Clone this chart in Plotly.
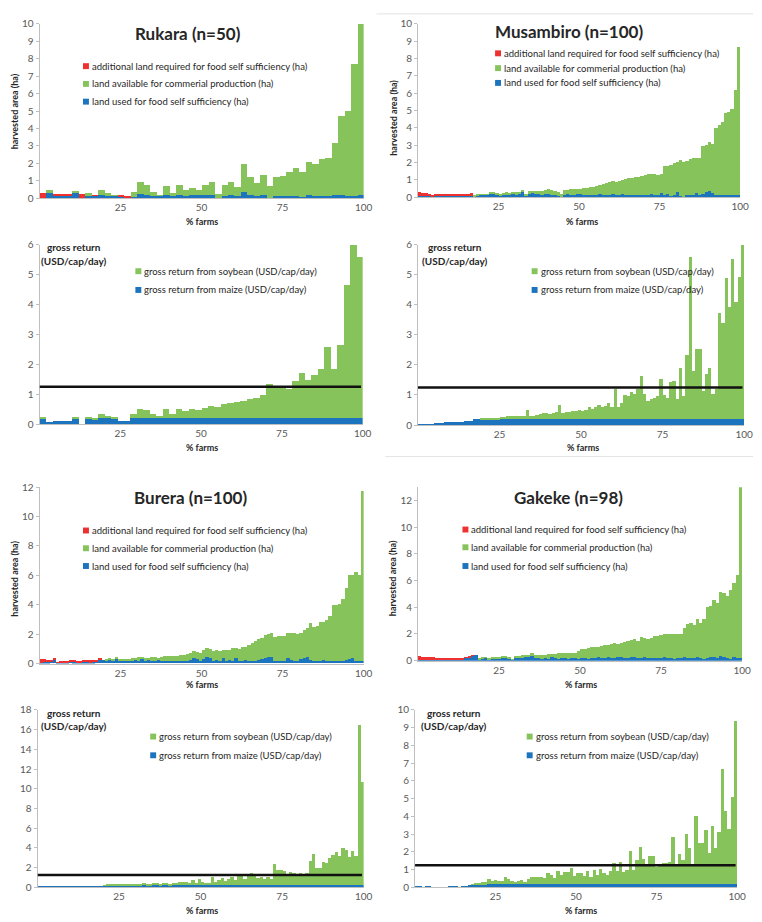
import plotly.graph_objects as go

# ---------------------------------------------------------------- data
# Rukara (n=50): harvested area per farm (ha), farms sorted by land available
rukara_food = [0.05, 0.30, 0.15, 0.15, 0.15, 0.30, 0.05, 0.20, 0.15, 0.20,
               0.20, 0.15, 0.10, 0.08, 0.10, 0.25, 0.20, 0.15, 0.15, 0.20,
               0.15, 0.20, 0.15, 0.20, 0.20, 0.20, 0.20, 0.05, 0.15, 0.20,
               0.15, 0.35, 0.20, 0.15, 0.20, 0.05, 0.15, 0.15, 0.15, 0.15,
               0.10, 0.20, 0.15, 0.15, 0.15, 0.20, 0.20, 0.15, 0.15, 0.20]
rukara_extra = [0.25, 0, 0.10, 0.10, 0.07, 0, 0.20, 0, 0.05, 0,
                0, 0, 0.05, 0.07, 0, 0, 0, 0, 0, 0,
                0, 0, 0, 0, 0, 0, 0, 0, 0, 0,
                0, 0, 0, 0, 0, 0, 0, 0, 0, 0,
                0, 0, 0, 0, 0, 0, 0, 0, 0, 0]
rukara_comm = [0, 0.20, 0, 0, 0, 0.12, 0, 0.10, 0, 0.30,
               0.10, 0.05, 0, 0, 0.30, 0.70, 0.55, 0.20, 0.05, 0.50,
               0.15, 0.55, 0.35, 0.40, 0.30, 0.60, 0.75, 0.20, 0.65, 0.75,
               0.50, 1.65, 1.05, 0.75, 1.15, 0.65, 1.10, 1.15, 1.35, 1.60,
               1.40, 1.90, 1.85, 2.10, 2.15, 3.00, 4.50, 4.85, 7.55, 9.80]
# Rukara gross return (USD/cap/day)
rukara_maize = [0.20, 0.08, 0.10, 0.10, 0.12, 0.20, 0, 0.20, 0.18, 0.20,
                0.20, 0.20, 0.12, 0.12, 0.20, 0.20, 0.20, 0.20, 0.20, 0.20,
                0.20, 0.20, 0.20, 0.20, 0.20, 0.20, 0.20, 0.20, 0.20, 0.20,
                0.20, 0.20, 0.20, 0.20, 0.20, 0.20, 0.20, 0.20, 0.20, 0.20,
                0.20, 0.20, 0.20, 0.20, 0.20, 0.20, 0.20, 0.20, 0.20, 0.20]
rukara_soy = [0.05, 0, 0, 0, 0, 0.05, 0, 0.02, 0.02, 0.15,
              0.08, 0.02, 0, 0, 0.15, 0.30, 0.27, 0.15, 0.08, 0.30,
              0.15, 0.30, 0.25, 0.30, 0.27, 0.35, 0.40, 0.37, 0.50, 0.52,
              0.55, 0.60, 0.65, 0.70, 0.80, 1.15, 1.05, 1.05, 1.00, 1.25,
              1.52, 1.30, 1.45, 1.65, 2.40, 1.65, 2.45, 4.45, 5.80, 5.40]

# Musambiro (n=100)
musambiro_food = [0.08, 0.08, 0.07, 0.06, 0.05, 0.08, 0.06, 0.07, 0.07, 0.07,
                  0.07, 0.07, 0.07, 0.07, 0.07, 0.08, 0.10, 0.08, 0.12, 0.15,
                  0.15, 0.15, 0.25, 0.25, 0.20, 0.12, 0.15, 0.15, 0.15, 0.18,
                  0.15, 0.20, 0.30, 0.12, 0.20, 0.25, 0.20, 0.18, 0.15, 0.20,
                  0.18, 0.15, 0.12, 0.10, 0.05, 0.15, 0.18, 0.15, 0.15, 0.18,
                  0.20, 0.15, 0.15, 0.12, 0.15, 0.15, 0.18, 0.15, 0.12, 0.15,
                  0.20, 0.15, 0.15, 0.18, 0.15, 0.12, 0.15, 0.15, 0.15, 0.12,
                  0.15, 0.15, 0.20, 0.15, 0.15, 0.25, 0.15, 0.20, 0.10, 0.15,
                  0.30, 0.10, 0.02, 0.15, 0.15, 0.15, 0.25, 0.15, 0.20, 0.30,
                  0.35, 0.25, 0.12, 0.15, 0.15, 0.15, 0.15, 0.15, 0.15, 0.15]
musambiro_extra = [0.22, 0.20, 0.18, 0.12, 0.10, 0.14, 0.12, 0.13, 0.13, 0.13,
                   0.13, 0.13, 0.13, 0.13, 0.13, 0.12, 0.15, 0, 0, 0,
                   0, 0, 0, 0, 0, 0, 0, 0, 0, 0,
                   0, 0, 0, 0, 0, 0, 0, 0, 0, 0,
                   0, 0, 0, 0, 0, 0, 0, 0, 0, 0,
                   0, 0, 0, 0, 0, 0, 0, 0, 0, 0,
                   0, 0, 0, 0, 0, 0, 0, 0, 0, 0,
                   0, 0, 0, 0, 0, 0, 0, 0, 0, 0,
                   0, 0, 0, 0, 0, 0, 0, 0, 0, 0,
                   0, 0, 0, 0, 0, 0, 0, 0, 0, 0]
musambiro_comm = [0, 0, 0, 0, 0, 0, 0, 0, 0, 0,
                  0, 0, 0, 0, 0, 0, 0, 0.02, 0.03, 0.03,
                  0.03, 0.05, 0.03, 0.05, 0.05, 0.10, 0.13, 0.15, 0.13, 0.12,
                  0.17, 0.13, 0.15, 0.08, 0.18, 0.15, 0.18, 0.18, 0.23, 0.22,
                  0.30, 0.27, 0.26, 0.22, 0.17, 0.30, 0.27, 0.33, 0.35, 0.32,
                  0.32, 0.40, 0.40, 0.46, 0.47, 0.53, 0.57, 0.65, 0.73, 0.75,
                  0.75, 0.75, 0.83, 0.82, 0.90, 0.98, 1.00, 1.05, 1.03, 1.13,
                  1.15, 1.20, 1.15, 1.23, 1.17, 1.13, 1.67, 1.60, 1.75, 1.85,
                  1.75, 2.05, 2.03, 1.95, 2.05, 2.10, 2.00, 2.15, 2.75, 2.70,
                  2.85, 2.85, 3.88, 4.05, 4.20, 4.70, 4.75, 4.95, 6.05, 8.55]
musambiro_maize = [0.03, 0.03, 0.03, 0.04, 0.05, 0.08, 0.08, 0.09, 0.10, 0.12,
                   0.12, 0.12, 0.13, 0.13, 0.14, 0.15, 0.15, 0.20, 0.20, 0.20,
                   0.20, 0.20, 0.20, 0.20, 0.20, 0.20, 0.20, 0.20, 0.20, 0.20,
                   0.20, 0.20, 0.20, 0.20, 0.20, 0.20, 0.20, 0.20, 0.20, 0.20,
                   0.20, 0.20, 0.20, 0.20, 0.20, 0.20, 0.20, 0.20, 0.20, 0.20,
                   0.20, 0.20, 0.20, 0.20, 0.20, 0.20, 0.20, 0.20, 0.20, 0.20,
                   0.20, 0.20, 0.20, 0.20, 0.20, 0.20, 0.20, 0.20, 0.20, 0.20,
                   0.20, 0.20, 0.20, 0.20, 0.20, 0.20, 0.20, 0.20, 0.20, 0.20,
                   0.20, 0.20, 0.20, 0.20, 0.20, 0.20, 0.20, 0.20, 0.20, 0.20,
                   0.20, 0.20, 0.20, 0.20, 0.20, 0.20, 0.20, 0.20, 0.20, 0.20]
musambiro_soy = [0, 0, 0, 0, 0, 0, 0, 0, 0, 0,
                 0, 0, 0, 0, 0, 0, 0, 0, 0, 0.02,
                 0.02, 0.03, 0.04, 0.05, 0.05, 0.08, 0.08, 0.10, 0.10, 0.12,
                 0.12, 0.13, 0.13, 0.32, 0.10, 0.12, 0.15, 0.18, 0.20, 0.22,
                 0.18, 0.20, 0.25, 0.48, 0.22, 0.25, 0.25, 0.28, 0.28, 0.30,
                 0.28, 0.32, 0.42, 0.35, 0.40, 0.48, 0.42, 0.45, 0.55, 0.42,
                 1.00, 0.42, 0.55, 0.80, 0.77, 0.90, 0.85, 1.00, 1.45, 0.85,
                 0.62, 0.68, 0.70, 0.78, 1.35, 0.80, 0.72, 1.25, 1.28, 0.68,
                 1.70, 0.78, 2.15, 5.40, 1.60, 2.35, 2.35, 0.95, 1.50, 1.70,
                 0.85, 1.00, 3.55, 3.20, 4.70, 3.75, 5.35, 3.90, 4.75, 5.80]

# Burera (n=100)
burera_food = [0.05, 0.08, 0.10, 0.15, 0.30, 0.05, 0.02, 0.08, 0.10, 0.15,
               0.08, 0.08, 0.10, 0.12, 0.08, 0.10, 0.12, 0.15, 0.30, 0.25,
               0.20, 0.25, 0.20, 0.35, 0.20, 0.15, 0.20, 0.15, 0.20, 0.25,
               0.20, 0.30, 0.20, 0.25, 0.20, 0.15, 0.25, 0.20, 0.15, 0.20,
               0.20, 0.15, 0.20, 0.20, 0.15, 0.20, 0.25, 0.40, 0.30, 0.20,
               0.30, 0.45, 0.35, 0.20, 0.25, 0.20, 0.35, 0.20, 0.25, 0.20,
               0.35, 0.20, 0.20, 0.25, 0.20, 0.15, 0.20, 0.25, 0.30, 0.40,
               0.45, 0.45, 0.15, 0.20, 0.20, 0.20, 0.35, 0.25, 0.20, 0.20,
               0.30, 0.35, 0.45, 0.25, 0.20, 0.20, 0.20, 0.25, 0.20, 0.20,
               0.15, 0.20, 0.20, 0.20, 0.25, 0.30, 0.35, 0.20, 0.20, 0.15]
burera_extra = [0.25, 0.20, 0.17, 0.12, 0.02, 0.05, 0.15, 0.12, 0.10, 0.10,
                0.15, 0.12, 0.10, 0.10, 0.14, 0.12, 0.10, 0.08, 0.02, 0,
                0, 0, 0, 0, 0, 0, 0, 0, 0, 0,
                0, 0, 0, 0, 0, 0, 0, 0, 0, 0,
                0, 0, 0, 0, 0, 0, 0, 0, 0, 0,
                0, 0, 0, 0, 0, 0, 0, 0, 0, 0,
                0, 0, 0, 0, 0, 0, 0, 0, 0, 0,
                0, 0, 0, 0, 0, 0, 0, 0, 0, 0,
                0, 0, 0, 0, 0, 0, 0, 0, 0, 0,
                0, 0, 0, 0, 0, 0, 0, 0, 0, 0]
burera_comm = [0, 0, 0, 0, 0, 0, 0, 0, 0, 0,
               0, 0, 0, 0, 0, 0, 0, 0, 0, 0,
               0.12, 0.10, 0.10, 0.03, 0.10, 0.15, 0.08, 0.15, 0.18, 0.15,
               0.22, 0.15, 0.20, 0.13, 0.25, 0.27, 0.15, 0.25, 0.33, 0.30,
               0.30, 0.33, 0.30, 0.35, 0.45, 0.45, 0.45, 0.45, 0.45, 0.50,
               0.65, 0.60, 0.65, 0.65, 0.70, 0.65, 0.55, 0.75, 0.70, 0.85,
               0.70, 0.80, 0.90, 0.90, 1.05, 1.25, 1.35, 1.40, 1.40, 1.55,
               1.55, 1.60, 1.65, 1.65, 1.70, 1.70, 1.75, 1.80, 1.85, 1.80,
               1.80, 1.90, 1.95, 2.50, 2.30, 2.35, 2.65, 2.60, 2.75, 3.00,
               3.85, 3.80, 3.85, 4.20, 4.85, 5.70, 5.65, 6.05, 5.80, 11.55]
burera_maize = [0.10, 0.08, 0.08, 0.10, 0.15, 0.05, 0.05, 0.08, 0.10, 0.12,
                0.08, 0.08, 0.10, 0.12, 0.10, 0.10, 0.12, 0.12, 0.18, 0.15,
                0.20, 0.20, 0.20, 0.20, 0.20, 0.20, 0.20, 0.20, 0.20, 0.20,
                0.20, 0.20, 0.20, 0.20, 0.20, 0.20, 0.20, 0.20, 0.20, 0.20,
                0.20, 0.20, 0.20, 0.20, 0.20, 0.20, 0.20, 0.20, 0.20, 0.20,
                0.20, 0.20, 0.20, 0.20, 0.20, 0.20, 0.20, 0.20, 0.20, 0.20,
                0.20, 0.20, 0.20, 0.20, 0.20, 0.20, 0.20, 0.20, 0.20, 0.20,
                0.20, 0.20, 0.20, 0.20, 0.20, 0.20, 0.20, 0.20, 0.20, 0.20,
                0.20, 0.20, 0.20, 0.20, 0.20, 0.20, 0.20, 0.20, 0.20, 0.20,
                0.20, 0.20, 0.20, 0.20, 0.20, 0.20, 0.20, 0.20, 0.20, 0.20]
burera_soy = [0, 0, 0, 0, 0, 0, 0, 0, 0, 0,
              0, 0, 0, 0, 0, 0, 0, 0, 0, 0,
              0.05, 0.08, 0.08, 0.10, 0.10, 0.10, 0.12, 0.10, 0.12, 0.10,
              0.15, 0.18, 0.22, 0.18, 0.20, 0.25, 0.22, 0.20, 0.25, 0.22,
              0.20, 0.22, 0.25, 0.40, 0.38, 0.40, 0.30, 0.55, 0.30, 0.70,
              0.35, 0.30, 0.30, 0.90, 0.40, 0.60, 0.75, 0.50, 0.70, 0.90,
              0.55, 1.00, 1.05, 0.65, 1.20, 1.30, 1.20, 0.80, 0.90, 0.70,
              0.90, 0.65, 2.20, 1.60, 1.60, 1.45, 1.00, 1.40, 1.25, 1.00,
              1.30, 1.05, 1.25, 2.50, 3.20, 1.80, 1.75, 2.40, 2.30, 2.80,
              3.10, 3.40, 3.00, 3.80, 3.60, 2.90, 3.50, 3.00, 16.30, 10.50]

# Gakeke (n=98)
gakeke_food = [0.05, 0.05, 0.05, 0.05, 0.05, 0.05, 0.05, 0.05, 0.05, 0.05,
               0.05, 0.05, 0.05, 0.05, 0.20, 0.25, 0.35, 0.45, 0.10, 0.12,
               0.20, 0.10, 0.12, 0.15, 0.12, 0.20, 0.20, 0.18, 0.05, 0.20,
               0.25, 0.20, 0.30, 0.25, 0.35, 0.20, 0.20, 0.15, 0.20, 0.15,
               0.25, 0.20, 0.15, 0.20, 0.20, 0.15, 0.20, 0.20, 0.15, 0.20,
               0.20, 0.15, 0.20, 0.20, 0.30, 0.20, 0.20, 0.25, 0.20, 0.20,
               0.25, 0.30, 0.20, 0.20, 0.30, 0.25, 0.20, 0.20, 0.25, 0.20,
               0.20, 0.20, 0.20, 0.20, 0.25, 0.20, 0.20, 0.15, 0.20, 0.20,
               0.25, 0.20, 0.20, 0.20, 0.30, 0.20, 0.15, 0.20, 0.25, 0.30,
               0.20, 0.35, 0.25, 0.20, 0.15, 0.25, 0.20, 0.20]
gakeke_extra = [0.27, 0.25, 0.23, 0.23, 0.20, 0.17, 0.15, 0.13, 0.13, 0.10,
                0.10, 0.10, 0.10, 0.10, 0.05, 0.05, 0.03, 0, 0, 0,
                0, 0, 0, 0, 0, 0, 0, 0, 0, 0,
                0, 0, 0, 0, 0, 0, 0, 0, 0, 0,
                0, 0, 0, 0, 0, 0, 0, 0, 0, 0,
                0, 0, 0, 0, 0, 0, 0, 0, 0, 0,
                0, 0, 0, 0, 0, 0, 0, 0, 0, 0,
                0, 0, 0, 0, 0, 0, 0, 0, 0, 0,
                0, 0, 0, 0, 0, 0, 0, 0, 0, 0,
                0, 0, 0, 0, 0, 0, 0, 0]
gakeke_comm = [0, 0, 0, 0, 0, 0, 0, 0, 0, 0,
               0, 0, 0, 0, 0, 0, 0, 0, 0.05, 0.08,
               0.05, 0.05, 0.08, 0.10, 0.10, 0.08, 0.10, 0.10, 0.05, 0.10,
               0.10, 0.20, 0.12, 0.20, 0.25, 0.25, 0.22, 0.27, 0.25, 0.33,
               0.25, 0.32, 0.40, 0.35, 0.35, 0.43, 0.40, 0.40, 0.60, 0.65,
               0.68, 0.80, 0.80, 0.85, 0.75, 0.90, 0.95, 0.95, 1.05, 1.10,
               1.00, 1.05, 1.20, 1.25, 1.25, 1.35, 1.30, 1.55, 1.45, 1.40,
               1.45, 1.60, 1.65, 1.70, 1.75, 1.80, 1.80, 1.85, 1.80, 1.80,
               2.15, 2.50, 2.60, 2.45, 2.80, 2.60, 2.95, 3.80, 3.85, 4.20,
               4.10, 4.75, 4.80, 4.65, 5.15, 5.55, 6.20, 12.80]
gakeke_maize = [0.03, 0.03, 0, 0.03, 0.03, 0, 0, 0, 0, 0,
                0.03, 0.03, 0.03, 0, 0.08, 0.10, 0.12, 0.14, 0.15, 0.17,
                0.18, 0.19, 0.20, 0.20, 0.20, 0.20, 0.20, 0.20, 0.20, 0.20,
                0.20, 0.20, 0.20, 0.20, 0.20, 0.20, 0.20, 0.20, 0.20, 0.20,
                0.20, 0.20, 0.20, 0.20, 0.20, 0.20, 0.20, 0.20, 0.20, 0.20,
                0.20, 0.20, 0.20, 0.20, 0.20, 0.20, 0.20, 0.20, 0.20, 0.20,
                0.20, 0.20, 0.20, 0.20, 0.20, 0.20, 0.20, 0.20, 0.20, 0.20,
                0.20, 0.20, 0.20, 0.20, 0.20, 0.20, 0.20, 0.20, 0.20, 0.20,
                0.20, 0.20, 0.20, 0.20, 0.20, 0.20, 0.20, 0.20, 0.20, 0.20,
                0.20, 0.20, 0.20, 0.20, 0.20, 0.20, 0.20, 0.20]
gakeke_soy = [0, 0, 0, 0, 0, 0, 0, 0, 0, 0,
              0, 0, 0, 0, 0, 0, 0, 0.02, 0.07, 0.07,
              0.10, 0.11, 0.30, 0.15, 0.22, 0.15, 0.18, 0.40, 0.30, 0.15,
              0.10, 0.18, 0.20, 0.13, 0.30, 0.38, 0.40, 0.40, 0.40, 0.35,
              0.60, 0.50, 0.35, 0.75, 0.50, 0.65, 0.65, 0.90, 0.45, 0.60,
              0.60, 0.45, 0.70, 0.40, 0.80, 0.50, 0.85, 0.60, 0.50, 0.70,
              1.20, 0.75, 1.25, 0.65, 0.80, 1.85, 0.80, 1.35, 2.10, 1.40,
              1.05, 1.55, 1.55, 0.95, 1.10, 1.20, 1.20, 1.25, 2.65, 1.15,
              1.70, 1.35, 2.80, 2.00, 1.15, 3.80, 2.30, 2.30, 3.05, 1.75,
              3.25, 2.00, 2.90, 6.50, 4.10, 3.10, 4.90, 9.20]

x_ticks = [25, 50, 75, 100]
x_tick_labels = ["25", "50", "75", "100"]
poverty_line = 1.25

LEG_EXTRA = "additional land required for food self sufficiency (ha)"
LEG_COMM = "land available for commerial production (ha)"
LEG_FOOD = "land used for food self sufficiency (ha)"
LEG_SOY = "gross return from soybean (USD/cap/day)"
LEG_MAIZE = "gross return from maize (USD/cap/day)"

# ---------------------------------------------------------------- styling
W, H = 762, 922
GREEN = "#86C35A"
BLUE = "#1D74BE"
RED = "#EE3030"
AXIS = "#BFBFBF"
TICK = "#595959"
TEXT = "#262626"
FONT = "Lato"

fig = go.Figure()
shapes = []
annotations = []


def px_x(px):
    return px / W


def px_y(py):
    return 1 - py / H


def farm_pos(n):
    # centre of each farm's bar on the cumulative "% farms" scale
    return [(i + 0.5) * 100 / n for i in range(n)]


def add_stack(k, series):
    n = len(series[0][0])
    ax = "" if k == 1 else str(k)
    for values, color in series:
        fig.add_trace(go.Bar(
            x=farm_pos(n), y=values, width=100 / n,
            marker=dict(color=color, line=dict(width=0)),
            xaxis="x" + ax, yaxis="y" + ax, showlegend=False,
            hoverinfo="skip"))


def set_axes(k, x0, x1, top, bottom, ymax, dtick):
    ax = "" if k == 1 else str(k)
    fig.layout["xaxis" + ax] = dict(
        domain=[px_x(x0), px_x(x1)], range=[0, 100], anchor="y" + ax,
        tickvals=x_ticks, ticktext=x_tick_labels, showgrid=False,
        zeroline=False, showline=True, linecolor=AXIS, linewidth=1,
        ticks="", tickfont=dict(size=10, color=TICK, family=FONT))
    fig.layout["yaxis" + ax] = dict(
        domain=[px_y(bottom), px_y(top)], range=[0, ymax], anchor="x" + ax,
        dtick=dtick, showgrid=False, zeroline=False, showline=True,
        linecolor=AXIS, linewidth=1, ticks="outside", ticklen=3,
        tickcolor=AXIS, tickfont=dict(size=10, color=TICK, family=FONT))


def text(px, py, s, size=9.5, bold=False, anchor="left", angle=0, color=TEXT):
    annotations.append(dict(
        xref="paper", yref="paper", x=px_x(px), y=px_y(py),
        text="<b>%s</b>" % s if bold else s, showarrow=False,
        xanchor=anchor, yanchor="middle", textangle=angle,
        font=dict(size=size, color=color, family=FONT)))


def legend_item(px, py, color, label):
    shapes.append(dict(type="rect", xref="paper", yref="paper",
                       x0=px_x(px - 3), x1=px_x(px + 3),
                       y0=px_y(py + 3), y1=px_y(py - 3),
                       fillcolor=color, line=dict(width=0)))
    text(px + 4, py, label, size=9.5)


def poverty(k):
    ax = "" if k == 1 else str(k)
    shapes.append(dict(type="line", xref="x" + ax, yref="y" + ax,
                       x0=0, x1=99.5, y0=poverty_line, y1=poverty_line,
                       line=dict(color="#111111", width=2.5)))


# ---------------------------------------------------------------- panels
# 1 Rukara area
set_axes(1, 40, 368, 17, 194, 10, 1)
add_stack(1, [(rukara_food, BLUE), (rukara_extra, RED), (rukara_comm, GREEN)])
text(190, 27, "Rukara (n=50)", size=17, bold=True, anchor="center")
legend_item(87, 60, RED, LEG_EXTRA)
legend_item(87, 78, GREEN, LEG_COMM)
legend_item(87, 96, BLUE, LEG_FOOD)
text(15, 106, "harvested area (ha)", size=9, bold=True, anchor="center", angle=-90)
text(204, 218, "% farms", size=9, bold=True, anchor="center")

# 2 Rukara gross return
set_axes(2, 40, 367, 241, 423, 6, 1)
add_stack(2, [(rukara_maize, BLUE), (rukara_soy, GREEN)])
poverty(2)
legend_item(140, 268, GREEN, LEG_SOY)
legend_item(140, 287, BLUE, LEG_MAIZE)
text(75, 243, "gross return", size=10, bold=True, anchor="center")
text(75, 258, "(USD/cap/day)", size=10, bold=True, anchor="center")
text(204, 447, "% farms", size=9, bold=True, anchor="center")

# 3 Musambiro area
set_axes(3, 423, 749, 17, 193, 10, 1)
add_stack(3, [(musambiro_food, BLUE), (musambiro_extra, RED), (musambiro_comm, GREEN)])
text(576, 25, "Musambiro (n=100)", size=17, bold=True, anchor="center")
legend_item(504, 47, RED, LEG_EXTRA)
legend_item(504, 62, GREEN, LEG_COMM)
legend_item(504, 77, BLUE, LEG_FOOD)
text(398, 112, "harvested area (ha)", size=9, bold=True, anchor="center", angle=-90)
text(589, 218, "% farms", size=9, bold=True, anchor="center")

# 4 Musambiro gross return
set_axes(4, 423, 753, 241, 424, 6, 1)
add_stack(4, [(musambiro_maize, BLUE), (musambiro_soy, GREEN)])
poverty(4)
legend_item(541, 268, GREEN, LEG_SOY)
legend_item(541, 287, BLUE, LEG_MAIZE)
text(460, 243, "gross return", size=10, bold=True, anchor="center")
text(460, 258, "(USD/cap/day)", size=10, bold=True, anchor="center")
text(590, 447, "% farms", size=9, bold=True, anchor="center")

# 5 Burera area
set_axes(5, 40, 368, 487, 666, 12, 2)
add_stack(5, [(burera_food, BLUE), (burera_extra, RED), (burera_comm, GREEN)])
text(193, 498, "Burera (n=100)", size=17, bold=True, anchor="center")
legend_item(87, 531, RED, LEG_EXTRA)
legend_item(87, 549, GREEN, LEG_COMM)
legend_item(87, 567, BLUE, LEG_FOOD)
text(15, 580, "harvested area (ha)", size=9, bold=True, anchor="center", angle=-90)
text(204, 687, "% farms", size=9, bold=True, anchor="center")

# 6 Gakeke area
set_axes(6, 423, 751, 487, 663, 13, 2)
add_stack(6, [(gakeke_food, BLUE), (gakeke_extra, RED), (gakeke_comm, GREEN)])
text(575, 498, "Gakeke (n=98)", size=17, bold=True, anchor="center")
legend_item(471, 530, RED, LEG_EXTRA)
legend_item(471, 548, GREEN, LEG_COMM)
legend_item(471, 567, BLUE, LEG_FOOD)
text(398, 579, "harvested area (ha)", size=9, bold=True, anchor="center", angle=-90)
text(588, 687, "% farms", size=9, bold=True, anchor="center")

# 7 Burera gross return
set_axes(7, 38, 368, 713, 893, 18, 2)
add_stack(7, [(burera_maize, BLUE), (burera_soy, GREEN)])
poverty(7)
legend_item(155, 740, GREEN, LEG_SOY)
legend_item(155, 759, BLUE, LEG_MAIZE)
text(75, 716, "gross return", size=10, bold=True, anchor="center")
text(75, 729, "(USD/cap/day)", size=10, bold=True, anchor="center")
text(204, 916, "% farms", size=9, bold=True, anchor="center")

# 8 Gakeke gross return
set_axes(8, 420, 746, 713, 893, 10, 1)
add_stack(8, [(gakeke_maize, BLUE), (gakeke_soy, GREEN)])
poverty(8)
legend_item(536, 740, GREEN, LEG_SOY)
legend_item(536, 759, BLUE, LEG_MAIZE)
text(459, 716, "gross return", size=10, bold=True, anchor="center")
text(459, 729, "(USD/cap/day)", size=10, bold=True, anchor="center")
text(588, 916, "% farms", size=9, bold=True, anchor="center")

# faint separators between the panel blocks on the right
for py, x0 in [(7, 381), (456, 390)]:
    shapes.append(dict(type="line", xref="paper", yref="paper",
                       x0=px_x(x0), x1=1, y0=px_y(py), y1=px_y(py),
                       line=dict(color="#E4E4E4", width=1)))

fig.update_layout(
    width=W, height=H, margin=dict(l=0, r=0, t=0, b=0),
    paper_bgcolor="white", plot_bgcolor="white",
    barmode="stack", bargap=0, showlegend=False,
    font=dict(family=FONT, color=TEXT),
    shapes=shapes, annotations=annotations)

fig.write_html("out.html")
